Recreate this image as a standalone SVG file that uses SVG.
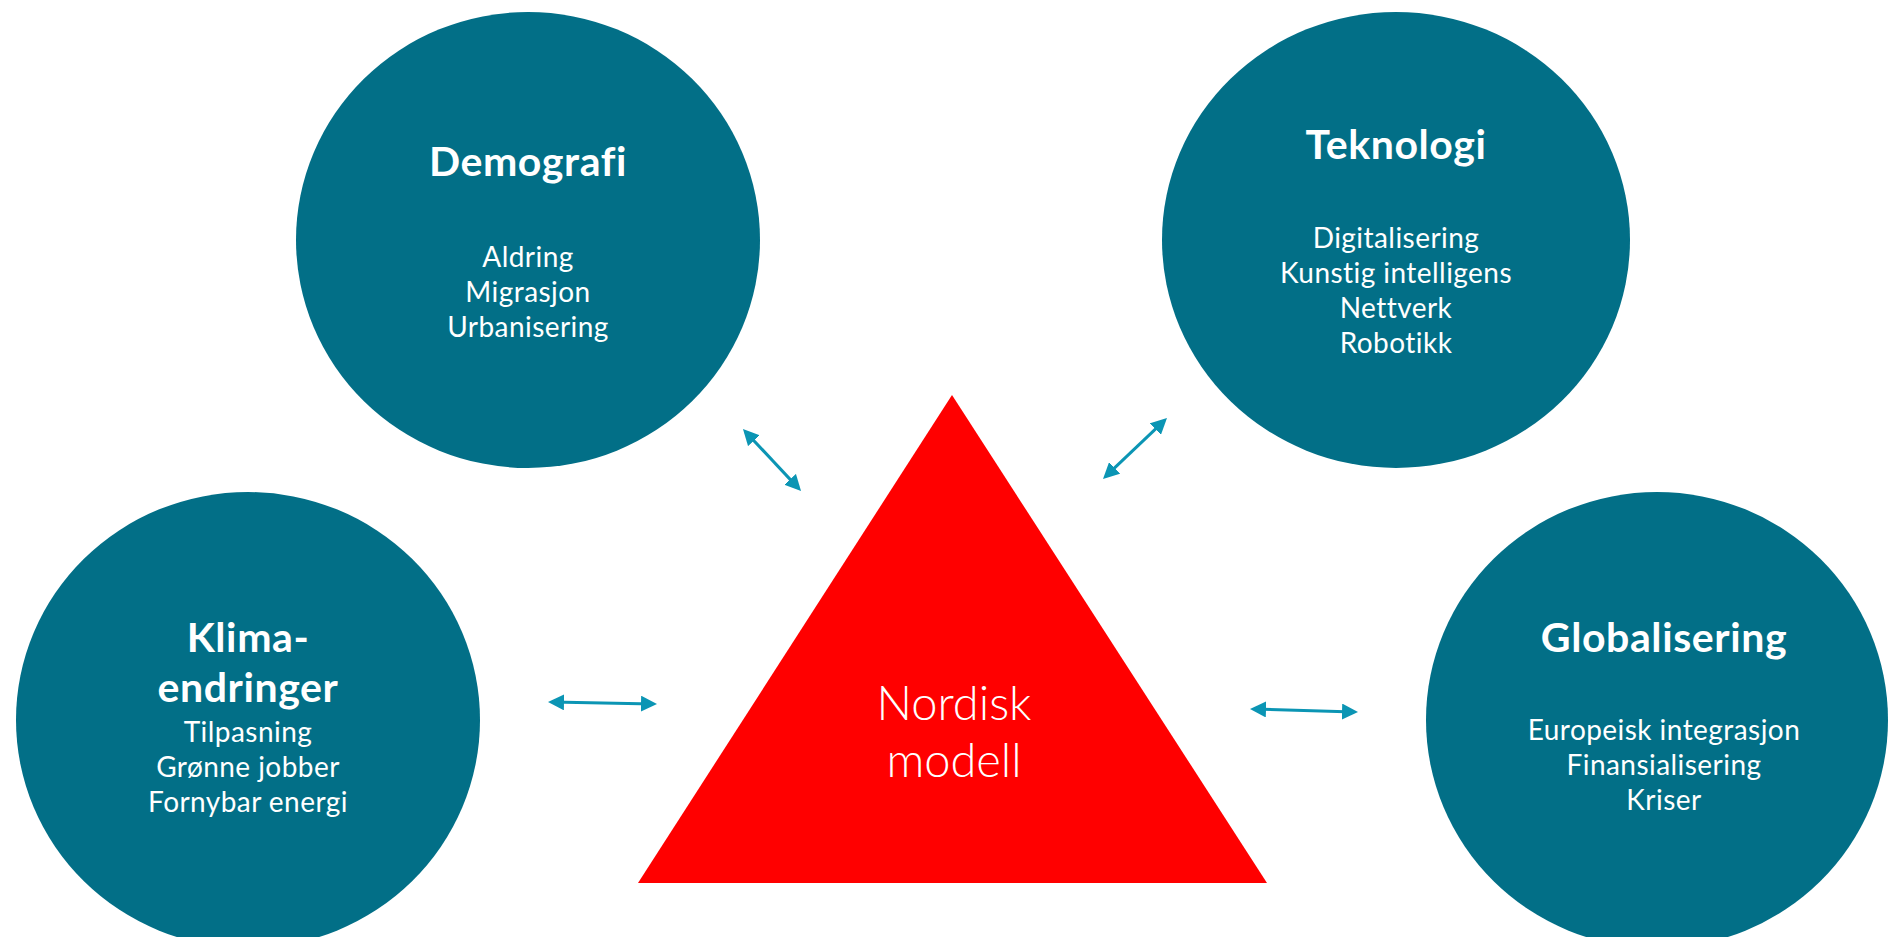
<svg xmlns="http://www.w3.org/2000/svg" width="1888" height="937" viewBox="0 0 1888 937">
<style>
.circle{fill:#026F87}
text{font-family:Lato,"Open Sans","Liberation Sans",sans-serif;fill:#fff;text-anchor:middle;font-variant-ligatures:none;font-feature-settings:"liga" 0,"dlig" 0}
.title{font-weight:700;font-size:41px;letter-spacing:0.6px}
.item{font-weight:400;font-size:28px;letter-spacing:0.45px}
.center{font-weight:300;font-size:47px}
.conn{stroke:#0B95B4;stroke-width:3;fill:none;marker-start:url(#ah);marker-end:url(#ah)}
</style>
<defs>
<marker id="ah" viewBox="0 0 16 16" refX="12" refY="8" markerWidth="16" markerHeight="16" markerUnits="userSpaceOnUse" orient="auto-start-reverse">
<path d="M0,0 L16,8 L0,16 z" fill="#0B95B4"/>
</marker>
</defs>
<rect width="1888" height="937" fill="#fff"/>
<g id="demografi">
<ellipse class="circle" cx="528" cy="240" rx="232" ry="228"/>
<text class="title" x="528" y="176">Demografi</text>
<text class="item" x="528" y="267">Aldring</text>
<text class="item" x="528" y="302">Migrasjon</text>
<text class="item" x="528" y="337">Urbanisering</text>
</g>
<g id="teknologi">
<ellipse class="circle" cx="1396" cy="240" rx="234" ry="228"/>
<text class="title" x="1396" y="159">Teknologi</text>
<text class="item" x="1396" y="248">Digitalisering</text>
<text class="item" x="1396" y="283">Kunstig intelligens</text>
<text class="item" x="1396" y="318">Nettverk</text>
<text class="item" x="1396" y="353">Robotikk</text>
</g>
<g id="klima">
<ellipse class="circle" cx="248" cy="720" rx="232" ry="228"/>
<text class="title" x="248" y="652">Klima-</text>
<text class="title" x="248" y="702">endringer</text>
<text class="item" x="248" y="742">Tilpasning</text>
<text class="item" x="248" y="777">Grønne jobber</text>
<text class="item" x="248" y="812">Fornybar energi</text>
</g>
<g id="globalisering">
<ellipse class="circle" cx="1657" cy="720" rx="231" ry="228"/>
<text class="title" x="1664" y="652">Globalisering</text>
<text class="item" x="1664" y="740">Europeisk integrasjon</text>
<text class="item" x="1664" y="775">Finansialisering</text>
<text class="item" x="1664" y="810">Kriser</text>
</g>
<g id="nordisk">
<polygon points="952,395 1267,883 638,883" fill="#FF0000"/>
<text class="center" x="954" y="720">Nordisk</text>
<text class="center" x="954" y="777">modell</text>
</g>
<g id="connectors">
<line class="conn" x1="745.7" y1="431.9" x2="798.3" y2="488.1"/>
<line class="conn" x1="1164.1" y1="420.8" x2="1105.9" y2="476.2"/>
<line class="conn" x1="552" y1="702.1" x2="653" y2="703.9"/>
<line class="conn" x1="1254" y1="709.1" x2="1354" y2="711.9"/>
</g>
</svg>
